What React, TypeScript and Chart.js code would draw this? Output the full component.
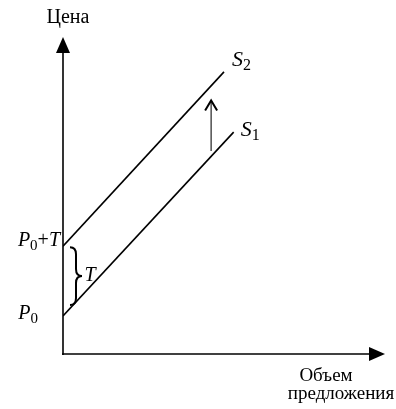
import { useEffect, useRef } from "react";
import { Chart, registerables } from "chart.js";

Chart.register(...registerables);

// Data (in abstract chart units)
const s1Quantity = [0, 53];
const s1Price = [12, 70];
const s2Quantity = [0, 50];
const s2Price = [34, 89];
const shiftQuantity = [46, 46];
const shiftPrice = [64, 80];
const axisMaxX = 100;
const axisMaxY = 100;

const priceTitle = "Цена";
const quantityTitle = ["Объем", "предложения"];
const seriesNames = [["S", "1"], ["S", "2"]];
const p0Label = ["P", "0"];
const taxLabel = "T";

const SERIF = '"Liberation Serif", "DejaVu Serif", serif';

function drawSub(ctx: CanvasRenderingContext2D, main: string, sub: string, x: number, y: number, size: number, align: "left" | "right", extra?: string) {
  ctx.save();
  ctx.textBaseline = "middle";
  ctx.textAlign = "left";
  const mainFont = `italic ${size}px ${SERIF}`;
  const subFont = `${Math.round(size * 0.74)}px ${SERIF}`;
  ctx.font = mainFont;
  const w1 = ctx.measureText(main).width;
  ctx.font = subFont;
  const w2 = ctx.measureText(sub).width;
  let w3 = 0;
  let plusW = 0;
  if (extra) {
    ctx.font = `${size}px ${SERIF}`;
    plusW = ctx.measureText("+").width;
    ctx.font = mainFont;
    w3 = ctx.measureText(extra).width;
  }
  const total = w1 + w2 + plusW + w3;
  let sx = align === "left" ? x : x - total;
  ctx.font = mainFont;
  ctx.fillText(main, sx, y);
  sx += w1;
  ctx.font = subFont;
  ctx.fillText(sub, sx, y + size * 0.25);
  sx += w2;
  if (extra) {
    ctx.font = `${size}px ${SERIF}`;
    ctx.fillText("+", sx, y);
    sx += plusW;
    ctx.font = mainFont;
    ctx.fillText(extra, sx, y);
  }
  ctx.restore();
}

const diagramPlugin = {
  id: "diagram",
  afterDatasetsDraw(chart: any) {
    const ctx: CanvasRenderingContext2D = chart.ctx;
    const xs = chart.scales.x;
    const ys = chart.scales.y;
    const x0 = xs.getPixelForValue(0);
    const y0 = ys.getPixelForValue(0);
    const xTop = ys.getPixelForValue(axisMaxY);
    const xEnd = xs.getPixelForValue(axisMaxX);
    ctx.save();
    ctx.strokeStyle = "#000";
    ctx.fillStyle = "#000";
    ctx.lineWidth = 1.6;
    // y axis
    ctx.beginPath();
    ctx.moveTo(x0, y0 + 1);
    ctx.lineTo(x0, xTop + 10);
    ctx.stroke();
    ctx.beginPath();
    ctx.moveTo(x0, xTop);
    ctx.lineTo(x0 - 7, xTop + 16);
    ctx.lineTo(x0 + 7, xTop + 16);
    ctx.closePath();
    ctx.fill();
    // x axis
    ctx.beginPath();
    ctx.moveTo(x0 - 1, y0);
    ctx.lineTo(xEnd - 10, y0);
    ctx.stroke();
    ctx.beginPath();
    ctx.moveTo(xEnd, y0);
    ctx.lineTo(xEnd - 16, y0 - 7);
    ctx.lineTo(xEnd - 16, y0 + 7);
    ctx.closePath();
    ctx.fill();

    // shift arrow head
    const ax = xs.getPixelForValue(shiftQuantity[1]);
    const ay = ys.getPixelForValue(shiftPrice[1]);
    ctx.lineWidth = 2;
    ctx.beginPath();
    ctx.moveTo(ax - 6, ay + 10);
    ctx.lineTo(ax, ay);
    ctx.lineTo(ax + 6, ay + 10);
    ctx.stroke();

    // brace
    const pA = ys.getPixelForValue(s1Price[0]);
    const pB = ys.getPixelForValue(s2Price[0]);
    const bTop = pB + 1;
    const bBot = pA - 11;
    const bMid = (bTop + bBot) / 2;
    const bl = x0 + 7;
    const bc = x0 + 13;
    const br = x0 + 19;
    ctx.lineWidth = 2;
    ctx.beginPath();
    ctx.moveTo(bl, bTop);
    ctx.quadraticCurveTo(bc, bTop, bc, bTop + 7);
    ctx.lineTo(bc, bMid - 7);
    ctx.quadraticCurveTo(bc, bMid, br, bMid);
    ctx.quadraticCurveTo(bc, bMid, bc, bMid + 7);
    ctx.lineTo(bc, bBot - 7);
    ctx.quadraticCurveTo(bc, bBot, bl, bBot);
    ctx.stroke();

    // texts
    ctx.textBaseline = "middle";
    ctx.textAlign = "center";
    ctx.font = `20px ${SERIF}`;
    ctx.fillText(priceTitle, x0 + 5, 18);
    ctx.font = `19px ${SERIF}`;
    ctx.fillText(quantityTitle[0], xEnd - 59, y0 + 22);
    ctx.fillText(quantityTitle[1], xEnd - 44, y0 + 40);

    ctx.font = `italic 20px ${SERIF}`;
    ctx.fillText(taxLabel, bc + 14, bMid);

    drawSub(ctx, p0Label[0], p0Label[1], x0 - 25, pA - 2, 20, "right");
    drawSub(ctx, p0Label[0], p0Label[1], x0 - 3, pB - 5, 20, "right", taxLabel);

    const s1x = xs.getPixelForValue(s1Quantity[1]);
    const s1y = ys.getPixelForValue(s1Price[1]);
    const s2x = xs.getPixelForValue(s2Quantity[1]);
    const s2y = ys.getPixelForValue(s2Price[1]);
    drawSub(ctx, seriesNames[0][0], seriesNames[0][1], s1x + 7, s1y - 2, 22, "left");
    drawSub(ctx, seriesNames[1][0], seriesNames[1][1], s2x + 8, s2y - 12, 22, "left");
    ctx.restore();
  },
};

function toPoints(xs: number[], ys: number[]) {
  return xs.map((x, i) => ({ x, y: ys[i] }));
}

export default function App() {
  const ref = useRef<HTMLCanvasElement | null>(null);
  useEffect(() => {
    if (!ref.current) return;
    const chart = new Chart(ref.current, {
      type: "scatter",
      data: {
        datasets: [
          { data: toPoints(s1Quantity, s1Price), showLine: true, borderColor: "#000", borderWidth: 1.6, pointRadius: 0 },
          { data: toPoints(s2Quantity, s2Price), showLine: true, borderColor: "#000", borderWidth: 1.6, pointRadius: 0 },
          { data: toPoints(shiftQuantity, shiftPrice), showLine: true, borderColor: "#222", borderWidth: 1.2, pointRadius: 0 },
        ],
      },
      options: {
        responsive: false,
        animation: false,
        layout: { padding: { left: 63, right: 11, top: 37, bottom: 55 } },
        plugins: { legend: { display: false }, tooltip: { enabled: false } },
        scales: {
          x: { type: "linear", min: 0, max: axisMaxX, display: false },
          y: { type: "linear", min: 0, max: axisMaxY, display: false },
        },
      },
      plugins: [diagramPlugin],
    });
    return () => chart.destroy();
  }, []);
  return (
    <div style={{ position: "absolute", left: 0, top: 0, width: 396, height: 409, background: "#fff" }}>
      <canvas ref={ref} width={396} height={409} />
    </div>
  );
}
